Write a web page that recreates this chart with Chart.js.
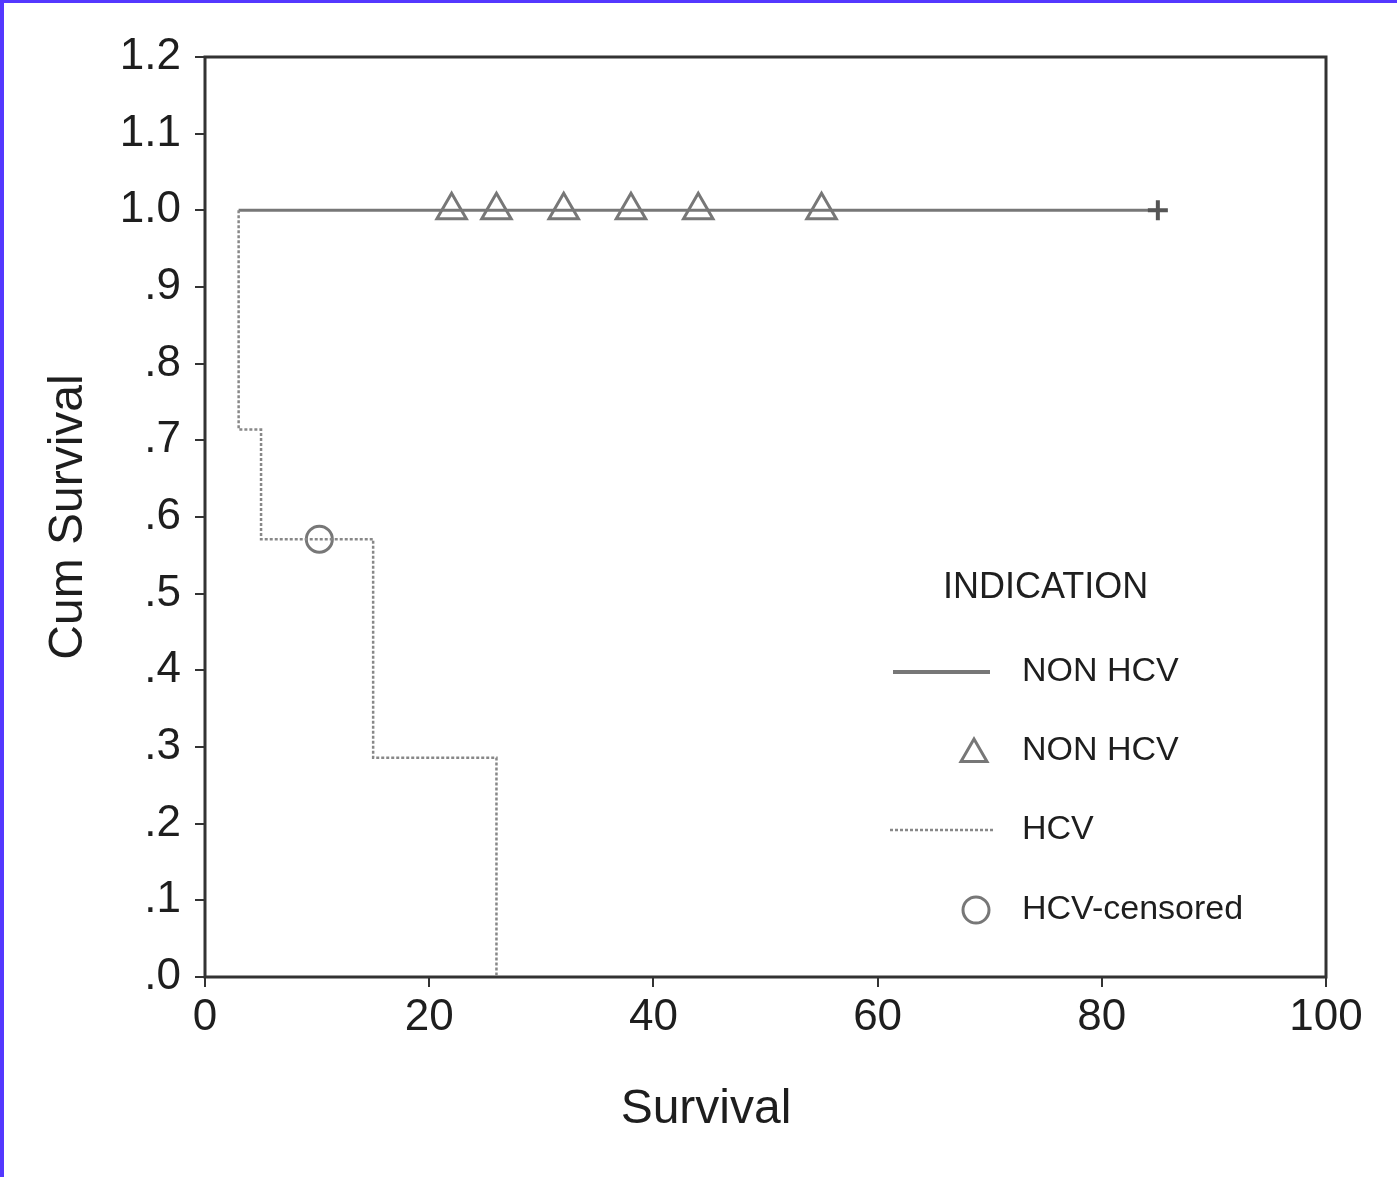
<!DOCTYPE html>
<html>
<head>
<meta charset="utf-8">
<script src="https://cdn.jsdelivr.net/npm/chart.js@4/dist/chart.umd.min.js"></script>
<style>
  html, body { margin: 0; padding: 0; background: #fff; }
  #wrap { position: relative; width: 1397px; height: 1177px; overflow: hidden; }
  #c { position: absolute; left: 0; top: 0; }
  .edge { position: absolute; background: #5438ff; }
</style>
</head>
<body>
<div id="wrap">
  <canvas id="c" width="1397" height="1177"></canvas>
  <div class="edge" style="left:0;top:0;width:4px;height:1177px"></div>
  <div class="edge" style="left:0;top:0;width:1397px;height:3px"></div>
</div>
<script>
// Kaplan-Meier survival by indication
const nonHcvTimes = [3, 85];
const nonHcvSurv = [1.0, 1.0];
const nonHcvCensoredTimes = [22, 26, 32, 38, 44, 55];
const nonHcvCensoredSurv = [1.0, 1.0, 1.0, 1.0, 1.0, 1.0];

const hcvTimes = [3, 3, 5, 15, 26];
const hcvSurv = [1.0, 0.714, 0.571, 0.286, 0.0];
const hcvCensoredTimes = [10.2];
const hcvCensoredSurv = [0.571];

const legendTitle = 'INDICATION';
const legendLabels = ['NON HCV', 'NON HCV', 'HCV', 'HCV-censored'];

const xTitle = 'Survival';
const yTitle = 'Cum Survival';

const FONT = '"Liberation Sans", Arial, Helvetica, sans-serif';
const INK = '#1e1e1e';
const CURVE = '#777';

const pts = (xs, ys) => xs.map((x, i) => ({ x, y: ys[i] }));

const framePlugin = {
  id: 'frame',
  beforeDatasetsDraw(chart) {
    const { ctx, chartArea: a } = chart;
    ctx.save();
    ctx.strokeStyle = '#333';
    ctx.lineWidth = 3;
    ctx.strokeRect(a.left, a.top, a.right - a.left, a.bottom - a.top);
    ctx.restore();
  }
};

const keyPlugin = {
  id: 'survKey',
  afterDraw(chart) {
    const ctx = chart.ctx;
    ctx.save();
    ctx.fillStyle = INK;
    ctx.textBaseline = 'middle';

    // x axis title, sitting a little left of the plot centre
    ctx.textAlign = 'center';
    ctx.font = '48px ' + FONT;
    ctx.fillText(xTitle, 706, 1110);

    ctx.textAlign = 'left';
    ctx.font = '36px ' + FONT;
    ctx.fillText(legendTitle, 943, 588);

    const rows = [672, 751, 830, 910];
    ctx.font = '34px ' + FONT;
    legendLabels.forEach((t, i) => ctx.fillText(t, 1022, rows[i]));

    ctx.strokeStyle = CURVE;
    // solid line sample
    ctx.lineWidth = 4;
    ctx.beginPath(); ctx.moveTo(893, rows[0]); ctx.lineTo(990, rows[0]); ctx.stroke();
    // triangle sample
    ctx.lineWidth = 3;
    const tx = 974, ty = rows[1] + 3, r = 15;
    ctx.beginPath();
    ctx.moveTo(tx, ty - r);
    ctx.lineTo(tx + r * 0.866, ty + r / 2);
    ctx.lineTo(tx - r * 0.866, ty + r / 2);
    ctx.closePath(); ctx.stroke();
    // dotted line sample
    ctx.lineWidth = 2.5;
    ctx.strokeStyle = '#888';
    ctx.setLineDash([3, 2]);
    ctx.beginPath(); ctx.moveTo(890, rows[2]); ctx.lineTo(995, rows[2]); ctx.stroke();
    ctx.setLineDash([]);
    // circle sample
    ctx.strokeStyle = CURVE;
    ctx.lineWidth = 3;
    ctx.beginPath(); ctx.arc(976, rows[3], 13, 0, Math.PI * 2); ctx.stroke();
    ctx.restore();
  }
};

new Chart(document.getElementById('c'), {
  type: 'scatter',
  data: {
    datasets: [
      {
        label: 'HCV',
        data: pts(hcvTimes, hcvSurv),
        showLine: true,
        stepped: 'before',
        borderColor: '#888',
        borderWidth: 2.5,
        borderDash: [3, 2],
        pointRadius: 0
      },
      {
        label: 'NON HCV',
        data: pts(nonHcvTimes, nonHcvSurv),
        showLine: true,
        borderColor: CURVE,
        borderWidth: 3,
        pointStyle: 'cross',
        pointRadius: [0, 10],
        pointBorderColor: '#555',
        pointBorderWidth: 4
      },
      {
        label: 'NON HCV censored',
        data: pts(nonHcvCensoredTimes, nonHcvCensoredSurv),
        pointStyle: 'triangle',
        pointRadius: 17,
        pointBorderWidth: 3,
        pointBorderColor: CURVE,
        pointBackgroundColor: '#fff'
      },
      {
        label: 'HCV-censored',
        data: pts(hcvCensoredTimes, hcvCensoredSurv),
        pointStyle: 'circle',
        pointRadius: 13,
        pointBorderWidth: 3,
        pointBorderColor: CURVE,
        pointBackgroundColor: '#fff'
      }
    ]
  },
  options: {
    responsive: false,
    animation: false,
    layout: { padding: { left: 40, top: 57, right: 71, bottom: 38 } },
    plugins: { legend: { display: false }, tooltip: { enabled: false } },
    scales: {
      x: {
        type: 'linear',
        min: 0, max: 100,
        afterFit: s => { s.height = 162; },
        ticks: { stepSize: 20, color: INK, padding: 4, font: { family: FONT, size: 44 } },
        grid: { drawOnChartArea: false, tickLength: 10, color: '#333', lineWidth: 2 },
        border: { display: false },
        title: { display: false }
      },
      y: {
        type: 'linear',
        min: 0, max: 1.2,
        afterFit: s => { s.width = 165; },
        ticks: {
          stepSize: 0.1, color: INK, padding: 14, font: { family: FONT, size: 44 },
          callback: v => { const s = (+v).toFixed(1); return s.startsWith('0') ? s.slice(1) : s; }
        },
        grid: { drawOnChartArea: false, tickLength: 10, color: '#333', lineWidth: 2 },
        border: { display: false },
        title: { display: true, text: yTitle, color: INK, padding: 0, font: { family: FONT, size: 48 } }
      }
    }
  },
  plugins: [framePlugin, keyPlugin]
});
</script>
</body>
</html>
